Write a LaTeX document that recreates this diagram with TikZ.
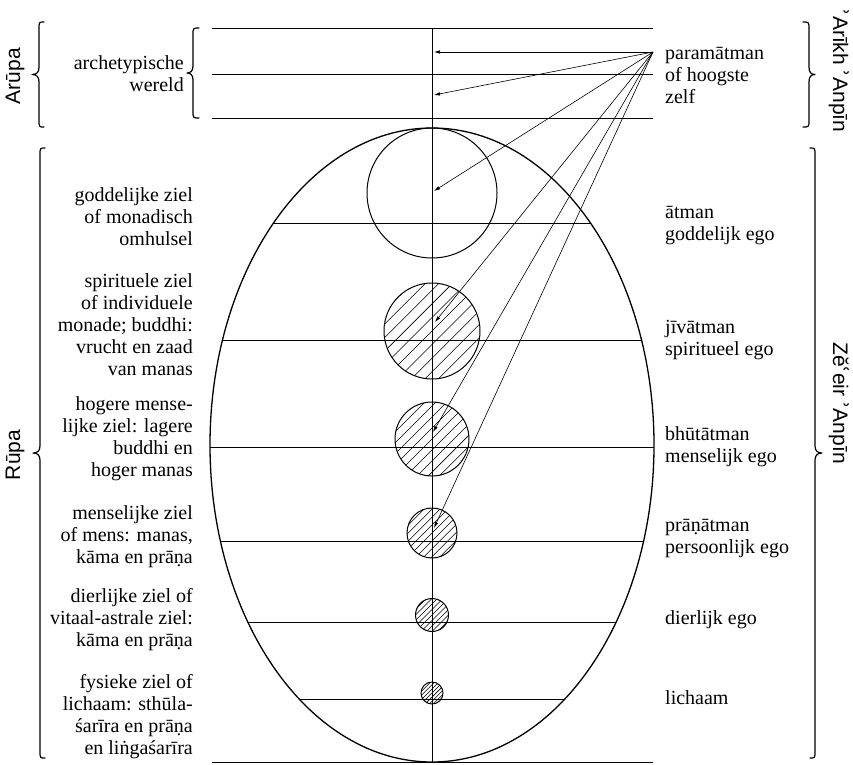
\documentclass[tikz,border=0pt]{standalone}
\usepackage{fontspec}
\setmainfont{Liberation Serif}
\newfontfamily\sansf{Liberation Sans}
\newfontfamily\dvs{DejaVu Sans}
\usetikzlibrary{calc,arrows.meta}
\newcommand\hc{{\dvs ʾ}}
\newcommand\ac{{\dvs ʿ}}
% #1 tip x, #2 stroke x, #3 end x, #4 top y, #5 bottom y
\newcommand\bracepath[5]{%
  \pgfmathsetmacro\yc{(#4+#5)/2}%
  \pgfmathsetmacro\dd{#2-#1}%
  \draw[bracestyle] (#3,#4) .. controls (#2,#4) .. (#2,#4+7)
    -- (#2,\yc-7) .. controls (#2,\yc-2) and ({#2-0.4*\dd},\yc) .. (#1,\yc)
    .. controls ({#2-0.4*\dd},\yc) and (#2,\yc+2) .. (#2,\yc+7)
    -- (#2,#5-7) .. controls (#2,#5) .. (#3,#5);}
\tikzset{
  ltext/.style={anchor=east, align=right, inner sep=0pt, font=\fontsize{20}{22}\selectfont},
  rtext/.style={anchor=west, align=left, inner sep=0pt, font=\fontsize{20}{22}\selectfont},
  vlab/.style={inner sep=0pt, font=\sansf\fontsize{21}{24}\selectfont},
  bracestyle/.style={line width=1.2pt, line cap=round, line join=round},
  thinline/.style={line width=0.8pt},
  arr/.style={-{Latex[length=6pt,width=3.6pt]}, line width=0.6pt},
  hatched/.style 2 args={circle, draw, line width=1pt, inner sep=0pt, minimum size=2*#1,
    path picture={
      \foreach \k in {-10,...,10}{
        \draw[line width=0.55pt]
          ($(path picture bounding box.center)+(\k*#2*0.7071-#1-3,\k*#2*0.7071+#1+3)$)
          -- ++(2*#1+6,-2*#1-6);
      }}},
  plaincirc/.style={circle, draw, line width=1pt, inner sep=0pt, minimum size=2*#1}
}
\begin{document}
\begin{tikzpicture}[x=1pt,y=-1pt]
\useasboundingbox (0,0) rectangle (853,764);

% top band lines
\foreach \yy in {28,74,118}{
  \draw[thinline] (212,\yy) -- (653,\yy);
}
\draw[thinline] (212,762.5) -- (653,762.5);

% axis
\coordinate (axtop) at (432,28);
\coordinate (axbot) at (432,762);
\draw[thinline] (axtop) -- (axbot);

% ellipse
\draw[line width=1.3pt] (432,445) ellipse [x radius=222pt, y radius=317pt];

% chords
\foreach \yy/\hw in {223/158.5,340/209.5,447/222,541/211.6,622/184.2,699/132.8}{
  \draw[thinline] ({432-\hw},\yy) -- ({432+\hw},\yy);
}

% circles
\node[plaincirc=65] (c1) at (432,193) {};
\node[hatched={48}{9.6}] (c2) at (432,331) {};
\node[hatched={37}{7.8}] (c3) at (432,439) {};
\node[hatched={25}{5.6}] (c4) at (432,533) {};
\node[hatched={16.5}{3.9}] (c5) at (432,615) {};
\node[hatched={11}{2.9}] (c6) at (432,693) {};

% arrows
\coordinate (src) at (653,52);
\coordinate (t1) at (434,52);
\coordinate (t2) at (434,95);
\coordinate (t3) at (434,191);
\coordinate (t4) at (435,322);
\coordinate (t5) at (433,432);
\coordinate (t6) at (434,528);
\foreach \t in {t1,t2,t3,t4,t5,t6}{
  \draw[arr] (src) -- (\t);
}

% left texts
\node[ltext] (arch) at (184,74) {archetypische\\wereld};
\node[ltext] (g1) at (193,217) {goddelijke ziel\\of monadisch\\omhulsel};
\node[ltext] (g2) at (193,325) {spirituele ziel\\of individuele\\monade; buddhi:\\vrucht en zaad\\van manas};
\node[ltext] (g3) at (193,439) {hogere mense-\\lijke ziel: lagere\\buddhi en\\hoger manas};
\node[ltext] (g4) at (193,537) {menselijke ziel\\of mens: manas,\\kāma en prāṇa};
\node[ltext] (g5) at (193,620) {dierlijke ziel of\\vitaal-astrale ziel:\\kāma en prāṇa};
\node[ltext] (g6) at (193,717) {fysieke ziel of\\lichaam: sthūla-\\śarīra en prāṇa\\en liṅgaśarīra};

% right texts
\node[rtext] (r0) at (665,75) {paramātman\\of hoogste\\zelf};
\node[rtext] (r1) at (665,226) {ātman\\goddelijk ego};
\node[rtext] (r2) at (665,340) {jīvātman\\spiritueel ego};
\node[rtext] (r3) at (665,447) {bhūtātman\\menselijk ego};
\node[rtext] (r4) at (665,539) {prāṇātman\\persoonlijk ego};
\node[rtext] (r5) at (665,620) {dierlijk ego};
\node[rtext] (r6) at (665,698) {lichaam};

% vertical labels
\node[vlab, rotate=90] (arupa) at (15,76) {Arūpa};
\node[vlab, rotate=90] (rupa) at (15,455) {Rūpa};
\node[vlab, rotate=-90] (arikh) at (839,71) {\hc Arīkh \hc Anpīn};
\node[vlab, rotate=-90] (zeeir) at (839,403) {Zĕ\ac eir \hc Anpīn};

% braces
\bracepath{32}{39}{44}{22}{127}
\bracepath{187}{193}{199}{28}{118}
\bracepath{33}{40}{45}{148}{758}
\bracepath{815}{809}{803}{22}{127}
\bracepath{822}{815}{810}{148}{758}
\end{tikzpicture}
\end{document}
